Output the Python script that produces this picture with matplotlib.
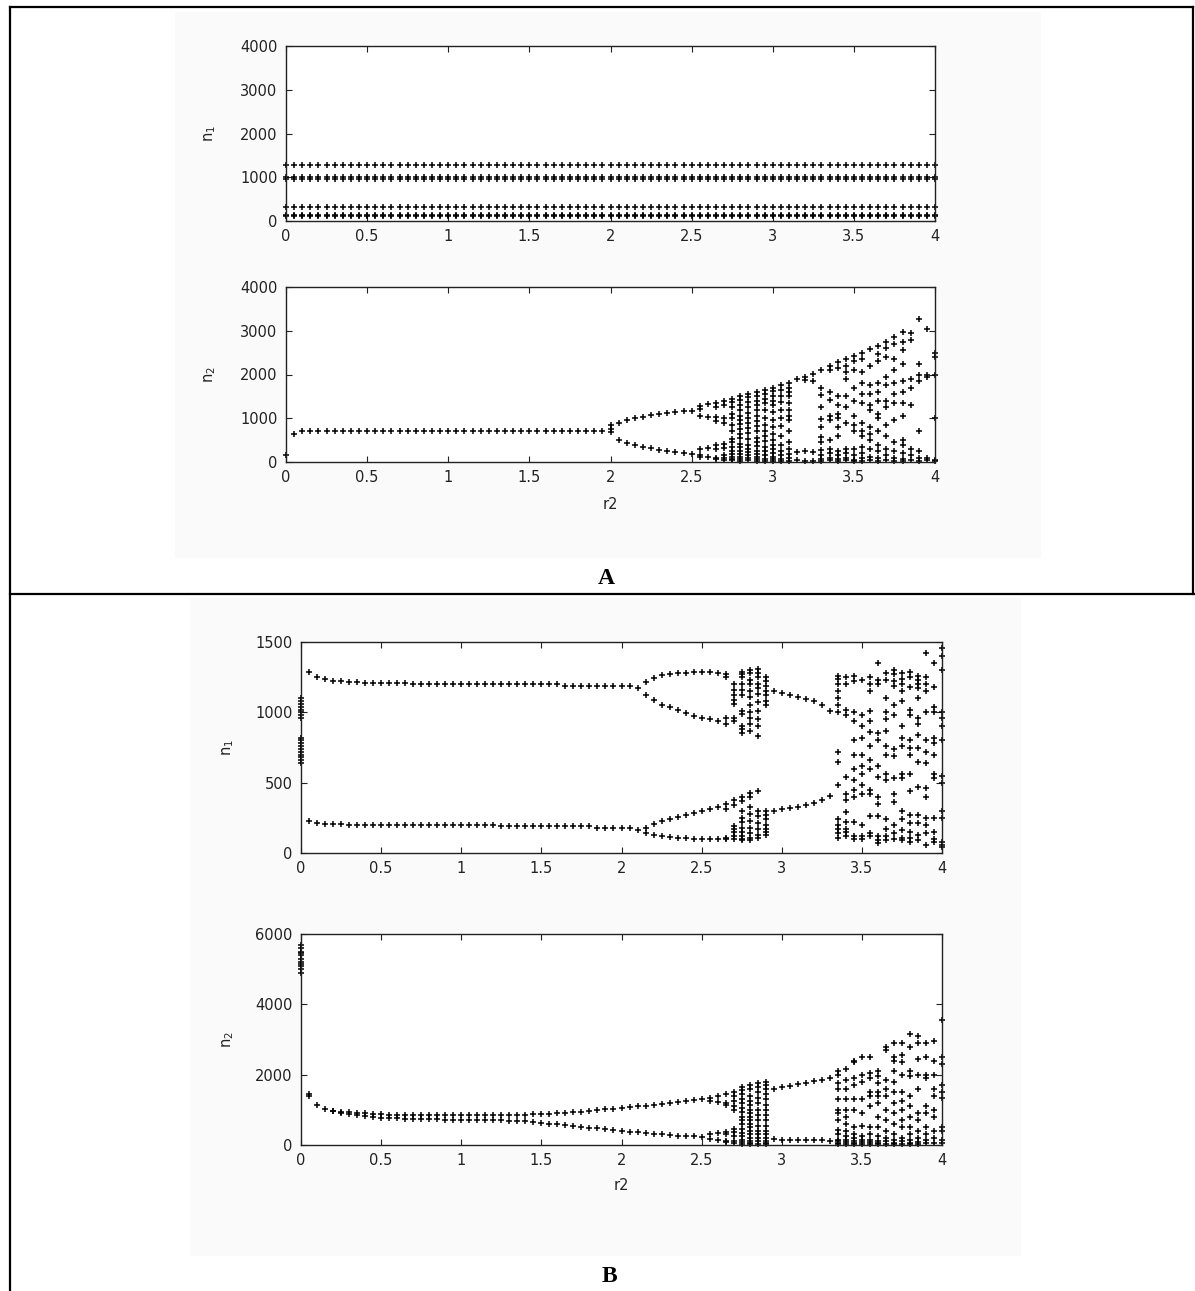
import matplotlib
matplotlib.use("Agg")
import matplotlib.pyplot as plt
from matplotlib.lines import Line2D
from matplotlib.patches import Rectangle

# r2 sample grid (step 0.05)
R_GRID = [
    0.00, 0.05, 0.10, 0.15, 0.20, 0.25, 0.30, 0.35, 0.40, 0.45,
    0.50, 0.55, 0.60, 0.65, 0.70, 0.75, 0.80, 0.85, 0.90, 0.95,
    1.00, 1.05, 1.10, 1.15, 1.20, 1.25, 1.30, 1.35, 1.40, 1.45,
    1.50, 1.55, 1.60, 1.65, 1.70, 1.75, 1.80, 1.85, 1.90, 1.95,
    2.00, 2.05, 2.10, 2.15, 2.20, 2.25, 2.30, 2.35, 2.40, 2.45,
    2.50, 2.55, 2.60, 2.65, 2.70, 2.75, 2.80, 2.85, 2.90, 2.95,
    3.00, 3.05, 3.10, 3.15, 3.20, 3.25, 3.30, 3.35, 3.40, 3.45,
    3.50, 3.55, 3.60, 3.65, 3.70, 3.75, 3.80, 3.85, 3.90, 3.95,
    4.00,
]
X_TICKS = [0, 0.5, 1, 1.5, 2, 2.5, 3, 3.5, 4]
X_TICK_LABELS = ["0", "0.5", "1", "1.5", "2", "2.5", "3", "3.5", "4"]

# ---- A, n1: cycle values do not depend on r2 ----
A1_LEVELS = [1290, 1000, 965, 320, 140, 105]

# ---- A, n2 ----
A2_FLAT_R = R_GRID[2:40]
A2_FLAT = [710] * 38
A2_P2_R = R_GRID[41:51]
A2_P2_UP = [900, 960, 1000, 1040, 1070, 1100, 1120, 1140, 1155, 1170]
A2_P2_LO = [500, 430, 385, 345, 310, 275, 245, 225, 205, 190]
A2_COL_R = [0.00, 0.05, 2.00, 2.55, 2.60, 2.65, 2.70, 2.75, 2.80, 2.85,
            2.90, 2.95, 3.00, 3.05, 3.10, 3.15, 3.20, 3.25, 3.30, 3.35,
            3.40, 3.45, 3.50, 3.55, 3.60, 3.65, 3.70, 3.75, 3.80, 3.85,
            3.90, 3.95, 4.00]
A2_COLS = [
    [170],
    [650],
    [840, 760, 690],
    [1290, 1220, 1060, 290, 160, 120],
    [1320, 1040, 320, 110],
    [1360, 1260, 1020, 930, 380, 300, 100, 60],
    [1400, 1300, 1000, 900, 420, 330, 150, 90, 50],
    [1450, 1380, 1250, 1100, 1000, 850, 700, 520, 450, 350, 250, 180, 120, 70, 40],
    [1500, 1420, 1300, 1180, 1060, 950, 860, 760, 640, 560, 420, 350, 260, 180, 120, 70, 30],
    [1560, 1480, 1380, 1250, 1120, 1000, 900, 780, 660, 520, 400, 300, 220, 150, 90, 40],
    [1600, 1520, 1400, 1300, 1180, 1060, 940, 820, 700, 560, 460, 360, 260, 180, 110, 60, 20],
    [1650, 1550, 1450, 1340, 1200, 1000, 850, 700, 600, 480, 350, 250, 150, 80, 30],
    [1700, 1620, 1500, 1400, 1300, 1150, 950, 800, 650, 500, 400, 300, 200, 120, 60, 20],
    [1750, 1650, 1520, 1380, 1200, 1000, 820, 600, 400, 250, 150, 60, 20],
    [1800, 1700, 1600, 1500, 1350, 1200, 1050, 950, 700, 450, 300, 180, 90, 30],
    [1900, 230, 40],
    [1950, 1880, 260, 30],
    [2020, 1850, 220, 20],
    [2100, 1700, 1530, 1260, 990, 800, 570, 450, 270, 150, 70, 20],
    [2200, 2100, 1600, 1420, 1050, 950, 500, 300, 200, 100, 40],
    [2280, 2150, 1500, 1300, 1100, 1000, 800, 600, 250, 150, 60, 20],
    [2350, 2200, 2050, 1900, 1500, 1250, 900, 300, 200, 100, 40],
    [2420, 2300, 2100, 1700, 1400, 1050, 850, 700, 300, 150, 50, 15],
    [2500, 2350, 2050, 1800, 1550, 1350, 900, 700, 600, 350, 200, 100, 30],
    [2580, 2200, 1750, 1550, 1300, 1200, 800, 650, 500, 300, 120, 40],
    [2650, 2480, 2300, 1800, 1600, 1400, 1100, 1000, 700, 400, 250, 100, 30],
    [2750, 2600, 2400, 1950, 1750, 1400, 1250, 850, 600, 300, 150, 50],
    [2850, 2700, 2350, 2100, 1800, 1550, 1350, 950, 450, 250, 100, 30],
    [2970, 2750, 2550, 2250, 1850, 1600, 1350, 1050, 500, 400, 200, 80, 20],
    [2950, 2800, 1900, 1700, 1300, 300, 150, 40],
    [3280, 2250, 2000, 1850, 700, 250, 100, 30],
    [3050, 2000, 1950, 100, 40],
    [2500, 2400, 2000, 1000, 40, 20],
]

# ---- B, n1 ----
B1_P1_R = R_GRID[1:43]
B1_P1_UP = ([1290, 1250, 1235, 1225, 1220, 1218, 1215, 1212, 1210, 1208,
             1207, 1206, 1205, 1200] + [1198] * 18 + [1188] * 9 + [1175])
B1_P1_LO = [228, 215, 208, 206, 205, 202] + [200] * 18 + [192] * 12 + [180] * 5 + [165]
B1_P2_R = R_GRID[43:53]
B1_P2_UU = [1215, 1245, 1262, 1272, 1278, 1282, 1285, 1285, 1285, 1280]
B1_P2_UD = [1120, 1085, 1055, 1035, 1015, 995, 975, 960, 950, 940]
B1_P2_LU = [180, 205, 225, 240, 255, 270, 285, 300, 315, 330]
B1_P2_LD = [145, 130, 120, 115, 110, 105, 100, 100, 100, 100]
B1_WIN_R = R_GRID[59:67]
B1_WIN_UP = [1150, 1140, 1125, 1110, 1095, 1080, 1050, 1010]
B1_WIN_LO = [300, 310, 320, 330, 340, 355, 375, 405]
B1_COL_R = [0.00, 2.65, 2.70, 2.75, 2.80, 2.85, 2.90, 3.35, 3.40, 3.45,
            3.50, 3.55, 3.60, 3.65, 3.70, 3.75, 3.80, 3.85, 3.90, 3.95, 4.00]
B1_COLS = [
    [1100, 1080, 1060, 1040, 1020, 1000, 980, 960, 820, 800, 780, 760, 740, 720, 700, 680, 660, 640],
    [1270, 1250, 960, 920, 350, 310, 110, 100],
    [1200, 1160, 1120, 1090, 1060, 960, 940, 380, 340, 190, 170, 150, 120, 100],
    [1290, 1270, 1250, 1200, 1160, 1120, 1010, 990, 900, 880, 850, 400, 370, 300, 250, 220, 180, 150, 120, 100, 90],
    [1300, 1280, 1230, 1200, 1150, 1110, 1050, 1000, 960, 920, 870, 430, 400, 330, 280, 230, 180, 140, 110, 90],
    [1310, 1280, 1250, 1200, 1170, 1130, 1070, 1010, 950, 900, 830, 440, 300, 260, 210, 170, 130, 110],
    [1250, 1220, 1190, 1150, 1120, 1080, 1050, 300, 270, 240, 200, 170, 150, 130],
    [1260, 1240, 1200, 1150, 1100, 1050, 1000, 720, 650, 480, 240, 200, 170, 140, 110],
    [1250, 1200, 1020, 980, 540, 420, 380, 290, 220, 170, 150, 120],
    [1260, 1220, 1000, 940, 800, 700, 600, 520, 450, 400, 220, 120, 100],
    [1230, 980, 900, 820, 700, 620, 560, 480, 420, 200, 120, 100],
    [1250, 1200, 1150, 1010, 940, 860, 760, 660, 600, 450, 420, 260, 140, 120],
    [1350, 1230, 1200, 850, 800, 620, 540, 400, 350, 260, 120, 90, 70],
    [1280, 1230, 1100, 1000, 950, 870, 760, 700, 560, 520, 240, 170, 120, 90],
    [1300, 1270, 1220, 1190, 1050, 980, 740, 690, 530, 420, 360, 200, 140, 100],
    [1280, 1240, 1200, 1150, 1080, 900, 820, 760, 560, 530, 300, 240, 160, 110, 90],
    [1290, 1250, 1180, 1020, 980, 800, 750, 700, 560, 440, 270, 210, 150, 110, 80],
    [1260, 1230, 1200, 1170, 1100, 960, 920, 840, 750, 650, 470, 270, 210, 130, 90],
    [1420, 1250, 1200, 1150, 1000, 800, 720, 640, 460, 400, 250, 200, 140, 60],
    [1350, 1180, 1040, 1000, 820, 780, 700, 560, 530, 250, 150, 100, 80],
    [1460, 1400, 1300, 1000, 960, 900, 800, 550, 500, 300, 250, 80, 60, 40],
]

# ---- B, n2 ----
B2_P2_R = R_GRID[5:51]
B2_P2_UP = [950, 930, 910, 900, 880, 870, 865, 860, 855, 850,
            848, 845, 842, 840, 840, 840, 840, 842, 845, 848,
            852, 856, 860, 865, 870, 880, 890, 900, 915, 930,
            950, 970, 990, 1010, 1030, 1050, 1075, 1100, 1120, 1150,
            1170, 1190, 1215, 1240, 1270, 1300]
B2_P2_LO = [900, 870, 840, 820, 800, 780, 770, 760, 750, 745,
            740, 735, 730, 725, 722, 720, 718, 715, 712, 708,
            702, 695, 685, 670, 650, 630, 610, 590, 570, 545,
            520, 495, 470, 445, 420, 400, 380, 360, 340, 320,
            300, 285, 270, 260, 250, 240]
B2_WIN_R = R_GRID[59:67]
B2_WIN_UP = [1600, 1640, 1690, 1730, 1770, 1810, 1860, 1900]
B2_WIN_LO = [160, 155, 150, 150, 145, 140, 130, 120]
B2_COL_R = [0.00, 0.05, 0.10, 0.15, 0.20, 2.55, 2.60, 2.65, 2.70, 2.75,
            2.80, 2.85, 2.90, 3.35, 3.40, 3.45, 3.50, 3.55, 3.60, 3.65,
            3.70, 3.75, 3.80, 3.85, 3.90, 3.95, 4.00]
B2_COLS = [
    [5700, 5600, 5500, 5450, 5400, 5300, 5200, 5150, 5100, 5000, 4900],
    [1450, 1380],
    [1150],
    [1020],
    [980, 960],
    [1350, 1250, 320, 160],
    [1400, 1230, 340, 130],
    [1450, 1200, 1150, 370, 300, 110, 90],
    [1500, 1400, 1250, 1100, 1000, 450, 380, 250, 120, 70],
    [1650, 1550, 1450, 1300, 1200, 1050, 950, 800, 700, 600, 450, 350, 250, 150, 80, 30],
    [1700, 1600, 1400, 1250, 1150, 1000, 900, 800, 700, 600, 500, 400, 300, 200, 120, 60, 20],
    [1750, 1650, 1500, 1350, 1200, 1000, 850, 700, 550, 400, 300, 200, 100, 40],
    [1800, 1700, 1600, 1450, 1300, 1150, 1000, 850, 700, 550, 400, 300, 200, 120, 60, 20],
    [2100, 2000, 1750, 1600, 1300, 1000, 900, 700, 420, 300, 150, 100, 60, 20],
    [2150, 1850, 1600, 1300, 1000, 800, 600, 400, 250, 150, 80, 30],
    [2400, 2350, 1900, 1700, 1300, 1000, 500, 300, 200, 120, 60, 20],
    [2500, 2000, 1800, 1300, 900, 550, 250, 150, 80, 30],
    [2500, 2050, 1900, 1500, 1400, 1100, 500, 300, 150, 80, 30],
    [2100, 1950, 1750, 1500, 1400, 1200, 800, 500, 250, 120, 60, 20],
    [2800, 2700, 1850, 1600, 1400, 1000, 700, 400, 200, 100, 40],
    [2900, 2500, 2400, 2100, 1800, 1500, 1200, 900, 600, 300, 150, 60, 20],
    [2900, 2550, 2350, 2000, 1500, 1250, 1000, 700, 500, 200, 100, 40],
    [3150, 2800, 2100, 1950, 1400, 1100, 800, 500, 300, 150, 60, 20],
    [3100, 2900, 2450, 2000, 1600, 900, 700, 400, 200, 80, 30],
    [2900, 2500, 2000, 1900, 1100, 900, 500, 300, 150, 60],
    [2950, 2400, 2000, 1600, 1400, 1000, 800, 400, 200, 60],
    [3550, 2500, 2300, 1700, 1500, 1350, 500, 400, 150, 50],
]

TICK_FONT = ["Liberation Sans Narrow", "DejaVu Sans"]


def collect(branches, col_r, cols):
    """Flatten branch series and per-r columns into x/y lists."""
    xs, ys = [], []
    for rs, ns in branches:
        xs += list(rs)
        ys += list(ns)
    for r, ns in zip(col_r, cols):
        xs += [r] * len(ns)
        ys += ns
    return xs, ys


def style_axes(ax, ymax, yticks, ylabel, label_x):
    ax.set_xlim(0, 4)
    ax.set_ylim(0, ymax)
    ax.set_xticks(X_TICKS)
    ax.set_xticklabels(X_TICK_LABELS)
    ax.set_yticks(yticks)
    ax.set_yticklabels([str(t) for t in yticks])
    ax.tick_params(direction="in", length=4, width=0.8, top=True, right=True,
                   labelsize=10.5, pad=6, colors="#222222")
    for lab in ax.get_xticklabels() + ax.get_yticklabels():
        lab.set_family(TICK_FONT)
    for sp in ax.spines.values():
        sp.set_linewidth(1.0)
        sp.set_color("#222222")
    ax.set_ylabel(ylabel, fontsize=10.5, family=TICK_FONT, color="#222222")
    ax.yaxis.set_label_coords(label_x, 0.5)


def scatter_plus(ax, xs, ys):
    ax.plot(xs, ys, linestyle="none", marker="+", markersize=4,
            markeredgewidth=1.1, color="black", clip_on=False)


fig = plt.figure(figsize=(11.95, 12.91), dpi=100)
W, H = 1195.0, 1291.0


def px_axes(left, top, right, bottom):
    return fig.add_axes([left / W, 1 - bottom / H, (right - left) / W, (bottom - top) / H])


# faint backgrounds of the embedded figures
fig.add_artist(Rectangle((175 / W, 1 - 557 / H), 865 / W, 545 / H,
                         transform=fig.transFigure, color="#fafafa", zorder=0))
fig.add_artist(Rectangle((190 / W, 1 - 1255 / H), 830 / W, 657 / H,
                         transform=fig.transFigure, color="#fafafa", zorder=0))

# ---- Panel A: n1 ----
ax1 = px_axes(286, 46, 935, 221)
xs, ys = [], []
for level in A1_LEVELS:
    xs += R_GRID
    ys += [level] * len(R_GRID)
scatter_plus(ax1, xs, ys)
style_axes(ax1, 4000, [0, 1000, 2000, 3000, 4000], "n$_1$", -0.105)

# ---- Panel A: n2 ----
ax2 = px_axes(286, 287, 935, 462)
xs, ys = collect([(A2_FLAT_R, A2_FLAT), (A2_P2_R, A2_P2_UP), (A2_P2_R, A2_P2_LO)],
                 A2_COL_R, A2_COLS)
scatter_plus(ax2, xs, ys)
style_axes(ax2, 4000, [0, 1000, 2000, 3000, 4000], "n$_2$", -0.105)
ax2.set_xlabel("r2", fontsize=10.5, family=TICK_FONT, color="#222222")
ax2.xaxis.set_label_coords(0.5, -0.2)

# ---- Panel B: n1 ----
ax3 = px_axes(301, 642, 942, 853)
xs, ys = collect([(B1_P1_R, B1_P1_UP), (B1_P1_R, B1_P1_LO),
                  (B1_P2_R, B1_P2_UU), (B1_P2_R, B1_P2_UD),
                  (B1_P2_R, B1_P2_LU), (B1_P2_R, B1_P2_LD),
                  (B1_WIN_R, B1_WIN_UP), (B1_WIN_R, B1_WIN_LO)],
                 B1_COL_R, B1_COLS)
scatter_plus(ax3, xs, ys)
style_axes(ax3, 1500, [0, 500, 1000, 1500], "n$_1$", -0.101)

# ---- Panel B: n2 ----
ax4 = px_axes(301, 934, 942, 1145)
xs, ys = collect([(B2_P2_R, B2_P2_UP), (B2_P2_R, B2_P2_LO),
                  (B2_WIN_R, B2_WIN_UP), (B2_WIN_R, B2_WIN_LO)],
                 B2_COL_R, B2_COLS)
scatter_plus(ax4, xs, ys)
style_axes(ax4, 6000, [0, 2000, 4000, 6000], "n$_2$", -0.101)
ax4.set_xlabel("r2", fontsize=10.5, family=TICK_FONT, color="#222222")
ax4.xaxis.set_label_coords(0.5, -0.155)

# panel letters
fig.text(606 / W, 1 - 578 / H, "A", ha="center", va="center",
         family="Liberation Serif", weight="bold", fontsize=17)
fig.text(609 / W, 1 - 1276 / H, "B", ha="center", va="center",
         family="Liberation Serif", weight="bold", fontsize=17)

# table frame
frame = dict(transform=fig.transFigure, color="black", linewidth=1.6)
fig.add_artist(Line2D([9.5 / W, 9.5 / W], [1 - 7 / H, 0], **frame))
fig.add_artist(Line2D([9.5 / W, 1193 / W], [1 - 7 / H, 1 - 7 / H], **frame))
fig.add_artist(Line2D([1193 / W, 1193 / W], [1 - 7 / H, 1 - 594 / H], **frame))
fig.add_artist(Line2D([9.5 / W, 1 - 0.5 / W], [1 - 594 / H, 1 - 594 / H], **frame))

fig.savefig("out.png", dpi=100)
